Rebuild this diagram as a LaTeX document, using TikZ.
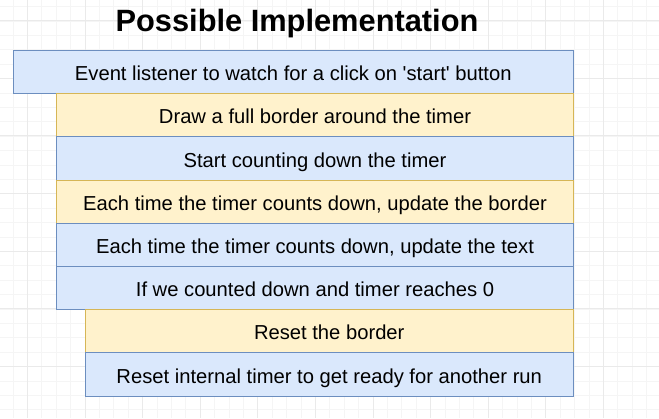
\documentclass[tikz,border=0pt]{standalone}
\usepackage{fontspec}
\setmainfont{Liberation Sans}
\definecolor{bluefill}{HTML}{DAE8FC}
\definecolor{bluedraw}{HTML}{6C8EBF}
\definecolor{yellowfill}{HTML}{FFF2CC}
\definecolor{yellowdraw}{HTML}{D6B656}
\definecolor{minorgrid}{HTML}{F5F5F5}
\definecolor{majorgrid}{HTML}{EAEAEA}
\begin{document}
\begin{tikzpicture}[x=1pt,y=-1pt,
  stepbase/.style={anchor=north west, inner sep=0pt, line width=1pt,
    minimum height=43.2pt, text height=17pt, text depth=0pt,
    font=\fontsize{20.2}{24}\selectfont, text=black},
  bluebox/.style={stepbase, fill=bluefill, draw=bluedraw},
  yellowbox/.style={stepbase, fill=yellowfill, draw=yellowdraw},
  titlestyle/.style={font=\bfseries\fontsize{30.8}{36}\selectfont}]
\useasboundingbox (0,0) rectangle (659,418);
\fill[white] (0,0) rectangle (659,418);
\foreach \i in {0,...,45} \draw[minorgrid, line width=0.8pt] ({12.9+14.4*\i},0) -- ++(0,418);
\foreach \j in {0,...,29} \draw[minorgrid, line width=0.8pt] (0,{6.6+14.4*\j}) -- ++(659,0);
\foreach \i in {0,...,11} \draw[majorgrid, line width=0.8pt] ({27.3+57.6*\i},0) -- ++(0,418);
\foreach \j in {0,...,7} \draw[majorgrid, line width=0.8pt] (0,{20.6+57.6*\j}) -- ++(659,0);
\node[titlestyle] (title) at (297,23.8) {Possible Implementation};
\node[bluebox, minimum width=560.5pt] (b1) at (12.5,50) {Event listener to watch for a click on \textquotesingle start\textquotesingle{} button};
\node[yellowbox, minimum width=517pt] (b2) at (56,93.2) {Draw a full border around the timer};
\node[bluebox, minimum width=517pt] (b3) at (56,136.4) {Start counting down the timer};
\node[yellowbox, minimum width=517pt] (b4) at (56,179.6) {Each time the timer counts down, update the border};
\node[bluebox, minimum width=517pt] (b5) at (56,222.8) {Each time the timer counts down, update the text};
\node[bluebox, minimum width=517pt] (b6) at (56,266) {If we counted down and timer reaches 0};
\node[yellowbox, minimum width=488.5pt] (b7) at (84.5,309.2) {Reset the border};
\node[bluebox, minimum width=488.5pt] (b8) at (84.5,352.4) {Reset internal timer to get ready for another run};
\end{tikzpicture}
\end{document}
